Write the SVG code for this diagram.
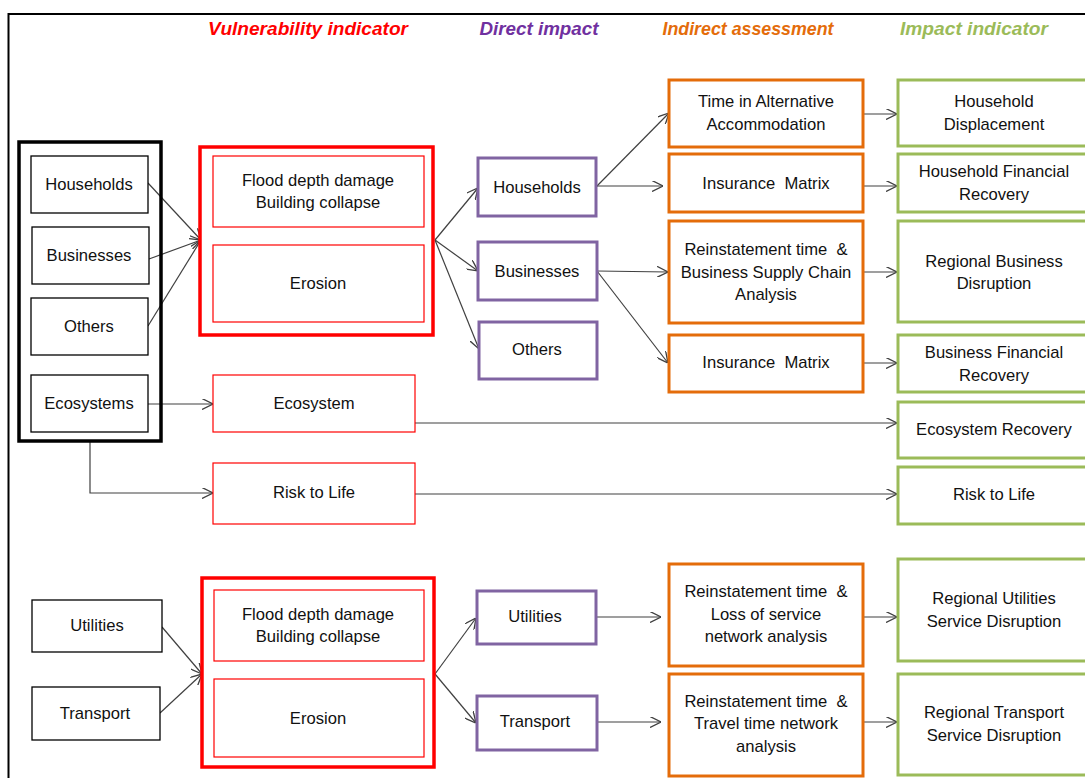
<svg xmlns="http://www.w3.org/2000/svg" width="1085" height="778" viewBox="0 0 1085 778">
<defs>
<style>
text{font-family:"Liberation Sans",Arial,sans-serif;font-size:16.6px;fill:#111;text-anchor:middle}
.hd{font-weight:bold;font-style:italic;font-size:18px}
.blk{fill:#fff;stroke:#000;stroke-width:1.3}
.grp{fill:none;stroke:#000;stroke-width:3.5}
.redB{fill:#fff;stroke:#ff0000;stroke-width:3.5}
.redT{fill:#fff;stroke:#ff0000;stroke-width:1.2}
.pur{fill:#fff;stroke:#8064a2;stroke-width:3}
.org{fill:#fff;stroke:#e46c0a;stroke-width:3}
.grn{fill:#fff;stroke:#9bbb59;stroke-width:3}
.c{fill:none;stroke:#404040;stroke-width:1.2;marker-end:url(#ah)}
.cn{fill:none;stroke:#404040;stroke-width:1.2}
</style>
<marker id="ah" viewBox="0 0 10 10" refX="10" refY="5" markerWidth="11" markerHeight="11" markerUnits="userSpaceOnUse" orient="auto">
<path d="M0,0 L10,5 L0,10" fill="none" stroke="#404040" stroke-width="1.2"/>
</marker>
</defs>
<rect width="1085" height="778" fill="#fff"/>
<path d="M8.5,790 V14 H1090" fill="none" stroke="#000" stroke-width="2"/>

<g id="headers">
<text class="hd" x="308" y="35" style="fill:#ff0000" textLength="200" lengthAdjust="spacingAndGlyphs">Vulnerability indicator</text>
<text class="hd" x="539" y="35" style="fill:#7030a0" textLength="119" lengthAdjust="spacingAndGlyphs">Direct impact</text>
<text class="hd" x="748" y="35" style="fill:#e46c0a" textLength="171" lengthAdjust="spacingAndGlyphs">Indirect assessment</text>
<text class="hd" x="974" y="35" style="fill:#9bbb59" textLength="148" lengthAdjust="spacingAndGlyphs">Impact indicator</text>
</g>

<g id="connectors">
<line class="c" x1="148" y1="183" x2="201" y2="240"/>
<line class="c" x1="149" y1="259" x2="201" y2="240"/>
<line class="c" x1="148" y1="326" x2="201" y2="240"/>
<line class="c" x1="148" y1="404" x2="213" y2="404"/>
<path class="c" d="M90,442 V493 H213"/>
<line class="c" x1="435" y1="240" x2="478" y2="188"/>
<line class="c" x1="435" y1="240" x2="478" y2="271"/>
<line class="c" x1="435" y1="240" x2="479" y2="349"/>
<line class="c" x1="596" y1="187" x2="669" y2="113"/>
<line class="c" x1="596" y1="186" x2="663" y2="186"/>
<line class="c" x1="597" y1="271" x2="668" y2="272"/>
<line class="c" x1="597" y1="271" x2="668" y2="363"/>
<line class="c" x1="864" y1="114" x2="897" y2="114"/>
<line class="c" x1="864" y1="186" x2="897" y2="186"/>
<line class="c" x1="864" y1="272" x2="897" y2="272"/>
<line class="c" x1="864" y1="363" x2="897" y2="363"/>
<line class="c" x1="415" y1="423" x2="897" y2="423"/>
<line class="c" x1="415" y1="494" x2="897" y2="494"/>
<line class="c" x1="162" y1="627" x2="202" y2="674"/>
<line class="c" x1="160" y1="713" x2="202" y2="674"/>
<line class="c" x1="435" y1="674" x2="476" y2="618"/>
<line class="c" x1="435" y1="674" x2="476" y2="723"/>
<line class="c" x1="596" y1="617" x2="661" y2="617"/>
<line class="c" x1="597" y1="722" x2="661" y2="722"/>
<line class="c" x1="864" y1="617" x2="897" y2="617"/>
<line class="c" x1="864" y1="722" x2="897" y2="722"/>
</g>

<g id="source-group"><rect class="grp" x="19" y="142" width="142" height="299"/></g>
<g id="src-households"><rect class="blk" x="31" y="156" width="117" height="57"/><text x="89" y="190">Households</text></g>
<g id="src-businesses"><rect class="blk" x="32" y="227" width="117" height="57"/><text x="89" y="261">Businesses</text></g>
<g id="src-others"><rect class="blk" x="31" y="298" width="117" height="57"/><text x="89" y="332">Others</text></g>
<g id="src-ecosystems"><rect class="blk" x="31" y="375" width="117" height="57"/><text x="89" y="409">Ecosystems</text></g>

<g id="vuln-top"><rect class="redB" x="200" y="147" width="233" height="188"/>
<rect class="redT" x="213" y="156" width="211" height="71"/><text x="318" y="186">Flood depth damage</text><text x="318" y="208">Building collapse</text>
<rect class="redT" x="213" y="245" width="211" height="77"/><text x="318" y="289">Erosion</text></g>
<g id="vuln-ecosystem"><rect class="redT" x="213" y="375" width="202" height="57"/><text x="314" y="409">Ecosystem</text></g>
<g id="vuln-risk"><rect class="redT" x="213" y="463" width="202" height="61"/><text x="314" y="498">Risk to Life</text></g>

<g id="di-households"><rect class="pur" x="478" y="158" width="118" height="58"/><text x="537" y="193">Households</text></g>
<g id="di-businesses"><rect class="pur" x="478" y="242" width="119" height="58"/><text x="537" y="277">Businesses</text></g>
<g id="di-others"><rect class="pur" x="479" y="322" width="118" height="57"/><text x="537" y="355">Others</text></g>

<g id="ia-time"><rect class="org" x="669" y="80" width="194" height="67"/><text x="766" y="107">Time in Alternative</text><text x="766" y="130">Accommodation</text></g>
<g id="ia-ins1"><rect class="org" x="669" y="154" width="194" height="58"/><text x="766" y="189" xml:space="preserve">Insurance  Matrix</text></g>
<g id="ia-reinst"><rect class="org" x="669" y="221" width="194" height="102"/><text x="766" y="255" xml:space="preserve">Reinstatement time  &amp;</text><text x="766" y="278">Business Supply Chain</text><text x="766" y="300">Analysis</text></g>
<g id="ia-ins2"><rect class="org" x="669" y="335" width="194" height="57"/><text x="766" y="368" xml:space="preserve">Insurance  Matrix</text></g>

<g id="ii-displacement"><rect class="grn" x="898" y="80" width="195" height="66"/><text x="994" y="107">Household</text><text x="994" y="130">Displacement</text></g>
<g id="ii-hhfin"><rect class="grn" x="898" y="154" width="195" height="58"/><text x="994" y="177">Household Financial</text><text x="994" y="200">Recovery</text></g>
<g id="ii-regbus"><rect class="grn" x="898" y="221" width="195" height="101"/><text x="994" y="267">Regional Business</text><text x="994" y="289">Disruption</text></g>
<g id="ii-busfin"><rect class="grn" x="898" y="335" width="195" height="57"/><text x="994" y="358">Business Financial</text><text x="994" y="381">Recovery</text></g>
<g id="ii-ecorec"><rect class="grn" x="898" y="402" width="195" height="56"/><text x="994" y="435">Ecosystem Recovery</text></g>
<g id="ii-risk"><rect class="grn" x="898" y="467" width="195" height="57"/><text x="994" y="500">Risk to Life</text></g>

<g id="src-utilities"><rect class="blk" x="32" y="600" width="130" height="52"/><text x="97" y="631">Utilities</text></g>
<g id="src-transport"><rect class="blk" x="32" y="687" width="128" height="53"/><text x="95" y="719">Transport</text></g>

<g id="vuln-bottom"><rect class="redB" x="202" y="578" width="232" height="189"/>
<rect class="redT" x="214" y="590" width="210" height="71"/><text x="318" y="620">Flood depth damage</text><text x="318" y="642">Building collapse</text>
<rect class="redT" x="214" y="679" width="210" height="78"/><text x="318" y="724">Erosion</text></g>

<g id="di-utilities"><rect class="pur" x="477" y="591" width="119" height="53"/><text x="535" y="622">Utilities</text></g>
<g id="di-transport"><rect class="pur" x="477" y="696" width="120" height="54"/><text x="535" y="727">Transport</text></g>

<g id="ia-util"><rect class="org" x="669" y="564" width="194" height="102"/><text x="766" y="597" xml:space="preserve">Reinstatement time  &amp;</text><text x="766" y="620">Loss of service</text><text x="766" y="642">network analysis</text></g>
<g id="ia-trans"><rect class="org" x="669" y="674" width="194" height="102"/><text x="766" y="707" xml:space="preserve">Reinstatement time  &amp;</text><text x="766" y="729">Travel time network</text><text x="766" y="752">analysis</text></g>

<g id="ii-util"><rect class="grn" x="898" y="559" width="195" height="102"/><text x="994" y="604">Regional Utilities</text><text x="994" y="627">Service Disruption</text></g>
<g id="ii-trans"><rect class="grn" x="898" y="674" width="195" height="101"/><text x="994" y="718">Regional Transport</text><text x="994" y="741">Service Disruption</text></g>
</svg>
